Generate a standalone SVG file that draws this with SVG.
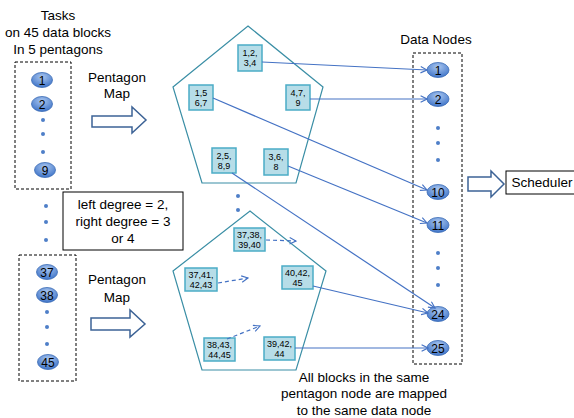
<svg xmlns="http://www.w3.org/2000/svg" width="574" height="418" viewBox="0 0 574 418">
<defs>
<radialGradient id="eg" cx="0.5" cy="0.3" r="0.7">
<stop offset="0" stop-color="#a9c6ef"/>
<stop offset="1" stop-color="#3f74c8"/>
</radialGradient>
<marker id="ah" viewBox="0 0 10 10" refX="9" refY="5" markerWidth="8" markerHeight="8" markerUnits="userSpaceOnUse" orient="auto">
<path d="M1,1 L9,5 L1,9" fill="none" stroke="#4472c4" stroke-width="1.4"/>
</marker>
</defs>
<style>
text{font-family:"Liberation Sans","DejaVu Sans",sans-serif;fill:#000}
.lbl{font-size:13.5px;text-anchor:middle}
.en{fill:url(#eg);stroke:#3a6bb5;stroke-width:0.8}
.et{font-size:12px;text-anchor:middle}
.dot{fill:#4f7fc8}
.dash{fill:none;stroke:#000;stroke-width:1;stroke-dasharray:3,2}
.pent{fill:#fff;stroke:#3a8ea5;stroke-width:1.2}
.bx{fill:#b7dde8;stroke:#4bacc6;stroke-width:1.5}
.bt{font-size:9px;text-anchor:middle}
.cn{fill:none;stroke:#4472c4;stroke-width:1.2;marker-end:url(#ah)}
.cd{fill:none;stroke:#4472c4;stroke-width:1.2;stroke-dasharray:4,3;marker-end:url(#ah)}
.harr{fill:#fff;stroke:#3d6396;stroke-width:1.5}
</style>

<g id="tasks-top">
<text class="lbl" x="58" y="20">Tasks</text>
<text class="lbl" x="58" y="37">on 45 data blocks</text>
<text class="lbl" x="58" y="54">In 5 pentagons</text>
<rect class="dash" x="15" y="62" width="56" height="127"/>
<ellipse class="en" cx="42" cy="80" rx="10.5" ry="7.5"/><text class="et" x="42" y="84.5">1</text>
<ellipse class="en" cx="42" cy="104" rx="10.5" ry="7.5"/><text class="et" x="42" y="108.5">2</text>
<circle class="dot" cx="43" cy="120" r="2"/>
<circle class="dot" cx="43" cy="134" r="2"/>
<circle class="dot" cx="43" cy="152" r="2"/>
<ellipse class="en" cx="45" cy="170" rx="10.5" ry="7.5"/><text class="et" x="45" y="174.5">9</text>
</g>

<g id="mid-dots">
<circle class="dot" cx="46" cy="206" r="2"/>
<circle class="dot" cx="46" cy="222" r="2"/>
<circle class="dot" cx="46" cy="240" r="2"/>
</g>

<g id="degree-box">
<rect x="63" y="192" width="120" height="58" fill="#fff" stroke="#000" stroke-width="1"/>
<text class="lbl" x="123" y="209">left degree = 2,</text>
<text class="lbl" x="123" y="226">right degree = 3</text>
<text class="lbl" x="123" y="243">or 4</text>
</g>

<g id="tasks-bottom">
<rect class="dash" x="19" y="255" width="57" height="126"/>
<ellipse class="en" cx="47" cy="272" rx="10.5" ry="7.5"/><text class="et" x="47" y="276.5">37</text>
<ellipse class="en" cx="47" cy="295" rx="10.5" ry="7.5"/><text class="et" x="47" y="299.5">38</text>
<circle class="dot" cx="47" cy="312" r="2"/>
<circle class="dot" cx="47" cy="327" r="2"/>
<circle class="dot" cx="47" cy="344" r="2"/>
<ellipse class="en" cx="48" cy="362" rx="10.5" ry="7.5"/><text class="et" x="48" y="366.5">45</text>
</g>

<g id="map-top">
<text class="lbl" x="117" y="82">Pentagon</text>
<text class="lbl" x="117" y="98">Map</text>
<path class="harr" d="M92,116 L132,116 L132,107 L146,120 L132,133 L132,127 L92,127 Z"/>
</g>

<g id="map-bottom">
<text class="lbl" x="117" y="284">Pentagon</text>
<text class="lbl" x="117" y="302">Map</text>
<path class="harr" d="M91,318 L130,318 L130,310 L145,324 L130,337 L130,330 L91,330 Z"/>
</g>

<g id="pentagon-top">
<polygon class="pent" points="248,26 323,87 296,183 202,183 173,87"/>
<rect class="bx" x="238" y="45" width="24" height="26"/>
<text class="bt" x="250" y="56">1,2,</text><text class="bt" x="250" y="66">3,4</text>
<rect class="bx" x="189" y="85" width="24" height="25"/>
<text class="bt" x="201" y="96">1,5</text><text class="bt" x="201" y="106">6,7</text>
<rect class="bx" x="286" y="85" width="24" height="25"/>
<text class="bt" x="298" y="96">4,7,</text><text class="bt" x="298" y="106">9</text>
<rect class="bx" x="212" y="148" width="24" height="25"/>
<text class="bt" x="224" y="159">2,5,</text><text class="bt" x="224" y="169">8,9</text>
<rect class="bx" x="264" y="149" width="24" height="26"/>
<text class="bt" x="276" y="160">3,6,</text><text class="bt" x="276" y="170">8</text>
</g>

<g id="pent-dots">
<circle class="dot" cx="238" cy="196" r="2"/>
<circle class="dot" cx="238" cy="210" r="2"/>
</g>

<g id="pentagon-bottom">
<polygon class="pent" points="250,211 326,271 296,370 202,370 173,271"/>
<rect class="bx" x="234" y="228" width="31" height="23"/>
<text class="bt" x="249.5" y="238">37,38,</text><text class="bt" x="249.5" y="248">39,40</text>
<rect class="bx" x="185" y="268" width="32" height="23"/>
<text class="bt" x="201" y="278">37,41,</text><text class="bt" x="201" y="288">42,43</text>
<rect class="bx" x="282" y="266" width="31" height="23"/>
<text class="bt" x="297.5" y="276">40,42,</text><text class="bt" x="297.5" y="286">45</text>
<rect class="bx" x="204" y="338" width="31" height="23"/>
<text class="bt" x="219.5" y="348">38,43,</text><text class="bt" x="219.5" y="358">44,45</text>
<rect class="bx" x="264" y="337" width="31" height="23"/>
<text class="bt" x="279.5" y="347">39,42,</text><text class="bt" x="279.5" y="357">44</text>
</g>

<g id="data-nodes">
<text class="lbl" x="436" y="44">Data Nodes</text>
<rect class="dash" x="413" y="53" width="49" height="311"/>
<ellipse class="en" cx="438" cy="70" rx="11" ry="7.5"/><text class="et" x="438" y="74.5">1</text>
<ellipse class="en" cx="438" cy="99" rx="11" ry="7.5"/><text class="et" x="438" y="103.5">2</text>
<circle class="dot" cx="438" cy="128" r="2"/>
<circle class="dot" cx="438" cy="143" r="2"/>
<circle class="dot" cx="438" cy="160" r="2"/>
<ellipse class="en" cx="438" cy="192" rx="11" ry="7.5"/><text class="et" x="438" y="196.5">10</text>
<ellipse class="en" cx="438" cy="225" rx="11" ry="7.5"/><text class="et" x="438" y="229.5">11</text>
<circle class="dot" cx="438" cy="253" r="2"/>
<circle class="dot" cx="438" cy="268" r="2"/>
<circle class="dot" cx="438" cy="285" r="2"/>
<ellipse class="en" cx="438" cy="314" rx="11" ry="7.5"/><text class="et" x="438" y="318.5">24</text>
<ellipse class="en" cx="438" cy="348" rx="11" ry="7.5"/><text class="et" x="438" y="352.5">25</text>
</g>

<g id="scheduler">
<path class="harr" d="M468,177 L491,177 L491,171 L504,184 L491,197 L491,191 L468,191 Z"/>
<rect x="506" y="171" width="70" height="23" fill="#fff" stroke="#000" stroke-width="1"/>
<text class="lbl" x="542" y="187">Scheduler</text>
</g>

<g id="note">
<text class="lbl" x="364" y="382">All blocks in the same</text>
<text class="lbl" x="364" y="398">pentagon node are mapped</text>
<text class="lbl" x="364" y="415">to the same data node</text>
</g>

<g id="connectors">
<path class="cn" d="M262,62 L427,70"/>
<path class="cn" d="M310,99 L427,99"/>
<path class="cn" d="M213,98 L427,190"/>
<path class="cn" d="M288,166 L427,223"/>
<path class="cn" d="M232,173 L435,308"/>
<path class="cn" d="M313,286 L428,313"/>
<path class="cn" d="M295,348 L428,348"/>
<path class="cd" d="M266,240 L296,241"/>
<path class="cd" d="M218,283 L248,278"/>
<path class="cd" d="M227,339 L260,326"/>
</g>
</svg>
